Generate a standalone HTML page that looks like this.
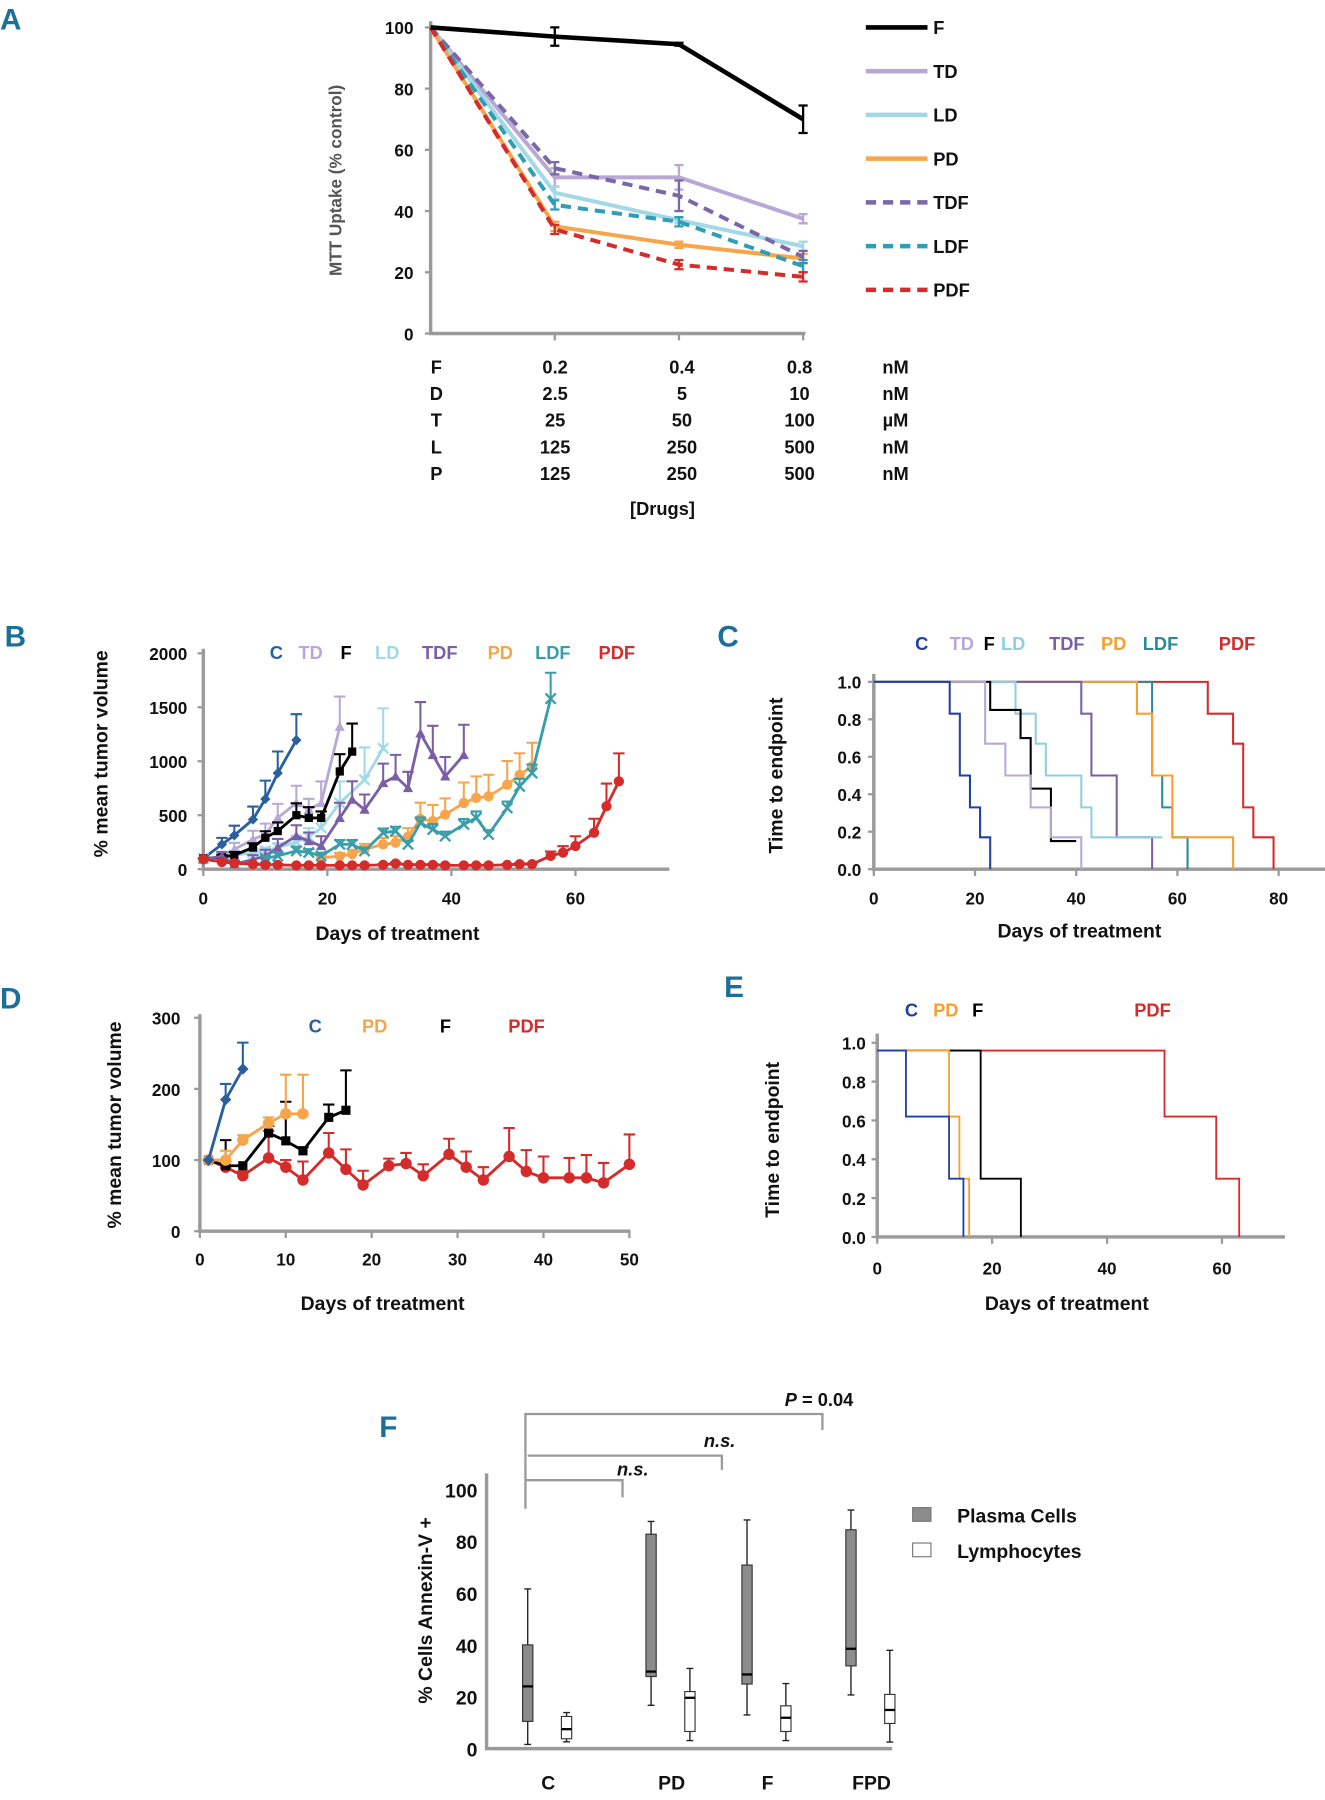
<!DOCTYPE html>
<html><head><meta charset="utf-8">
<style>
html,body{margin:0;padding:0;background:#fff;}
svg{display:block;}
text{font-family:"Liberation Sans",sans-serif;font-weight:bold;fill:#111;}
.lbl{fill:#1b6f9a;font-size:26px;}
.tk{font-size:15px;}
</style></head>
<body>
<svg id="fig" width="1325" height="1800" viewBox="0 0 1160 1576" preserveAspectRatio="none" xmlns="http://www.w3.org/2000/svg">
<text class="lbl" x="0" y="26">A</text>
<text class="lbl" x="4" y="566">B</text>
<text class="lbl" x="628" y="566">C</text>
<text class="lbl" x="0" y="883">D</text>
<text class="lbl" x="634" y="873">E</text>
<text class="lbl" x="332" y="1258">F</text>
<g id="gA"></g>
<g id="gB"></g>
<g id="gC"></g>
<g id="gD"></g>
<g id="gE"></g>
<g id="gF"></g>
</svg>
<script>
// ===== Panel A data =====
const aNames = ["F","TD","LD","PD","TDF","LDF","PDF"];
const aF   = [100, 97, 94.5, 70];
const aTD  = [100, 51, 51, 37.5];
const aLD  = [100, 46, 37, 28.5];
const aPD  = [100, 35, 29, 24.5];
const aTDF = [100, 54, 45, 25];
const aLDF = [100, 42, 36.5, 22];
const aPDF = [100, 34, 22.5, 18.5];
const aErr = [[0,3,0.5,4.5],[0,3,4,1.5],[0,2,1,1.5],[0,1.5,1,1.5],[0,2,5,2],[0,1.5,1.5,2],[0,1.5,1.5,1.5]];
const aYTicks = [0,20,40,60,80,100];
const aTable = [["F","0.2","0.4","0.8","nM"],["D","2.5","5","10","nM"],["T","25","50","100","µM"],["L","125","250","500","nM"],["P","125","250","500","nM"]];

// ===== Panel B data =====
const bC_days = [0,3,5,8,10,12,15];
const bC_vals = [100,230,313,460,650,890,1196];
const bC_err  = [0,60,90,120,170,200,240];
const bTD_days = [0,3,5,8,10,12,15,17,19,22];
const bTD_vals = [100,92,184,276,322,475,613,552,613,1319];
const bTD_err  = [0,50,60,80,100,130,160,100,200,280];
const bF_days = [0,3,5,8,10,12,15,17,19,22,24];
const bF_vals = [100,110,130,200,291,353,500,475,475,905,1089];
const bF_err  = [0,20,30,40,60,80,110,100,60,160,260];
const bLD_days = [0,3,5,8,10,12,15,17,19,22,26,29];
const bLD_vals = [100,110,130,150,170,200,250,300,383,613,828,1120];
const bLD_err  = [0,20,20,30,30,40,60,80,150,200,300,370];
const bTDF_days = [0,3,5,8,10,12,15,17,19,22,24,26,29,31,33,35,37,39,42];
const bTDF_vals = [90,120,46,90,120,200,307,260,215,475,644,552,798,859,752,1258,1058,859,1058];
const bTDF_err  = [0,40,30,40,60,80,100,80,90,140,170,140,180,200,150,290,270,180,280];
const bPD_days = [19,22,24,26,29,31,33,35,37,39,42,44,46,49,51,53];
const bPD_vals = [107,120,140,184,230,245,300,466,445,506,613,660,675,782,874,951];
const bPD_err  = [20,30,40,50,60,60,80,150,150,150,190,200,200,220,200,220];
const bLDF_days = [10,12,15,17,19,22,24,26,29,31,33,35,37,39,42,44,46,49,51,53,56];
const bLDF_vals = [100,123,169,155,123,230,230,169,337,353,230,429,368,307,414,475,322,567,767,890,1580];
const bLDF_err  = [20,30,40,30,30,40,40,30,40,40,30,50,50,40,50,60,40,60,70,80,240];
const bPDF_days = [0,3,5,8,10,12,15,17,19,22,24,26,29,31,33,35,37,39,42,44,46,49,51,53,56,58,60,63,65,67];
const bPDF_vals = [92,67,55,46,40,40,35,35,35,35,35,35,40,52,40,40,40,35,35,35,35,40,46,46,123,153,215,337,583,813];
const bPDF_err  = [10,10,8,8,6,6,6,6,6,6,6,6,8,10,8,8,8,6,6,6,6,8,10,10,40,60,90,130,210,260];
const bYTicks = [0,500,1000,1500,2000];
const bXTicks = [0,20,40,60];

// ===== Panel C data (survival steps) =====
const cC_t = [0,15,17,19,21,23];   const cC_s = [1,0.83,0.5,0.33,0.17,0];
const cTD_t = [0,22,26,31,35,41];  const cTD_s = [1,0.67,0.5,0.33,0.17,0];
const cF_t = [0,23,29,31,35,40];   const cF_s = [1,0.85,0.7,0.43,0.15,0.15];
const cLD_t = [0,28,32,34,41,43,57]; const cLD_s = [1,0.83,0.67,0.5,0.33,0.17,0.17];
const cTDF_t = [0,41,43,48,55];    const cTDF_s = [1,0.83,0.5,0.17,0];
const cPD_t = [0,52,55,59,71];     const cPD_s = [1,0.83,0.5,0.17,0];
const cLDF_t = [0,55,57,59,62];    const cLDF_s = [1,0.5,0.33,0.17,0];
const cPDF_t = [0,66,71,73,75,79]; const cPDF_s = [1,0.83,0.67,0.33,0.17,0];
const cYTicks = [0,0.2,0.4,0.6,0.8,1.0];
const cXTicks = [0,20,40,60,80];

// ===== Panel D data =====
const dC_days = [1,3,5];  const dC_vals = [100,185,228]; const dC_err = [0,22,37];
const dPD_days = [1,3,5,8,10,12]; const dPD_vals = [100,100,128,152,165,165]; const dPD_err = [0,13,7,8,55,55];
const dF_days = [1,3,5,8,10,12,15,17]; const dF_vals = [100,92,92,138,127,113,160,170]; const dF_err = [0,36,0,10,55,5,18,56];
const dPDF_days = [1,3,5,8,10,12,15,17,19,22,24,26,29,31,33,36,38,40,43,45,47,50];
const dPDF_vals = [100,90,78,103,90,72,110,87,65,92,95,78,108,90,72,105,84,75,75,75,68,94];
const dPDF_err  = [0,8,6,38,10,26,28,28,20,10,15,16,22,22,18,40,30,30,28,32,28,42];
const dYTicks = [0,100,200,300];
const dXTicks = [0,10,20,30,40,50];

// ===== Panel E data =====
const eC_t = [0,5,12.5,15];   const eC_s = [0.96,0.62,0.3,0];
const ePD_t = [0,12.5,14.3,16]; const ePD_s = [0.96,0.62,0.3,0];
const eF_t = [0,18,25];       const eF_s = [0.96,0.3,0];
const ePDF_t = [0,50,59,63];  const ePDF_s = [0.96,0.62,0.3,0];
const eYTicks = [0,0.2,0.4,0.6,0.8,1.0];
const eXTicks = [0,20,40,60];

// ===== Panel F data (box plots) =====
const fCats = ["C","PD","F","FPD"];
const fPlasmaMin = [1.6,16.7,13,20.7];
const fPlasmaQ1  = [10.5,27.8,24.9,31.9];
const fPlasmaMed = [24,29.7,28.6,38.5];
const fPlasmaQ3  = [40,82.7,70.8,84.4];
const fPlasmaMax = [61.6,87.6,88.2,92];
const fLymMin = [2.6,3.1,3.1,2.5];
const fLymQ1  = [3.8,6.6,6.6,9.7];
const fLymMed = [7.5,19.6,11.9,14.9];
const fLymQ3  = [12.4,22,16.5,20.9];
const fLymMax = [13.9,30.9,25.1,37.9];
const fYTicks = [0,20,40,60,80,100];

const NS = "http://www.w3.org/2000/svg";
function mk(parent, tag, attrs, txt){
  const e = document.createElementNS(NS, tag);
  for (const k in attrs) e.setAttribute(k, attrs[k]);
  if (txt !== undefined) e.textContent = txt;
  parent.appendChild(e);
  return e;
}
function marker(g, type, x, y, col, sz){
  let e;
  if (type==="diamond") e = mk(g,"polygon",{points:`${x},${y-sz} ${x+sz},${y} ${x},${y+sz} ${x-sz},${y}`,fill:col});
  else if (type==="tri") e = mk(g,"polygon",{points:`${x},${y-sz} ${x+sz},${y+sz*0.8} ${x-sz},${y+sz*0.8}`,fill:col});
  else if (type==="square") e = mk(g,"rect",{x:x-sz*0.8,y:y-sz*0.8,width:sz*1.6,height:sz*1.6,fill:col});
  else if (type==="circle") e = mk(g,"circle",{cx:x,cy:y,r:sz,fill:col});
  else { e = mk(g,"path",{d:`M${x-sz},${y-sz}L${x+sz},${y+sz}M${x-sz},${y+sz}L${x+sz},${y-sz}`,stroke:col,"stroke-width":2}); }
  
  
}
const AX = "#9a9a9a";

// ===== Panel A =====
(function(){
  const g = document.getElementById("gA");
  const xA = i => 377 + i*108.7;
  const yA = v => 292 - v*2.68;
  let e = mk(g,"path",{d:`M377,${yA(102)}V292H${xA(3)+2}`,stroke:AX,"stroke-width":3,fill:"none"});
  
  
  aYTicks.forEach(t=>{
    mk(g,"line",{x1:372,x2:377,y1:yA(t),y2:yA(t),stroke:AX,"stroke-width":2});
    const tx = mk(g,"text",{x:362,y:yA(t)+6,"text-anchor":"end",class:"tk"},t);
    
    
  });
  [1,2,3].forEach(i=>mk(g,"line",{x1:xA(i),x2:xA(i),y1:292,y2:298,stroke:AX,"stroke-width":2}));
  const yl = mk(g,"text",{transform:"translate(299,158) rotate(-90)","text-anchor":"middle",style:"font-size:15px;fill:#555"},"MTT Uptake (% control)");
  
  
  const series = [aF,aTD,aLD,aPD,aTDF,aLDF,aPDF];
  const cols = ["#000","#b9a8d6","#a3d8e6","#f6a54a","#7a67a6","#2f9db3","#d42b2b"];
  const dash = [null,null,null,null,"9,6","9,6","9,6"];
  const order = [1,2,3,4,5,6,0];
  order.forEach(si=>{
    const vals = series[si];
    const pts = vals.map((v,i)=>`${xA(i)},${yA(v)}`).join(" ");
    const pl = mk(g,"polyline",{points:pts,fill:"none",stroke:cols[si],"stroke-width":si===0?4:3.5});
    if (dash[si]) pl.setAttribute("stroke-dasharray",dash[si]);
    
    
    vals.forEach((v,i)=>{
      const er = aErr[si][i]; if(!er) return;
      mk(g,"path",{d:`M${xA(i)},${yA(v+er)}V${yA(v-er)}M${xA(i)-4},${yA(v+er)}h8M${xA(i)-4},${yA(v-er)}h8`,stroke:cols[si],"stroke-width":2,fill:"none"});
    });
  });
  aNames.forEach((n,i)=>{
    const y = 24 + i*38.3;
    const l = mk(g,"line",{x1:758,x2:812,y1:y,y2:y,stroke:cols[i],"stroke-width":4});
    if (dash[i]) l.setAttribute("stroke-dasharray","9,6");
    
    
    const t = mk(g,"text",{x:817,y:y+6,style:"font-size:16px"},n);
    
    
  });
  const cx = [382,486,597,700,784];
  aTable.forEach((row,r)=>{
    row.forEach((c,j)=>{
      const t = mk(g,"text",{x:cx[j],y:327+r*23.3,"text-anchor":"middle",style:"font-size:16px"},c);
      
      
    });
  });
  const xt = mk(g,"text",{x:580,y:451,"text-anchor":"middle",style:"font-size:16px"},"[Drugs]");
  
  
})();

// ===== Panel B =====
(function(){
  const g = document.getElementById("gB");
  const xB = d => 178 + d*5.43;
  const yB = v => 761 - v*0.0945;
  const ax = mk(g,"path",{d:`M178,568V761H586`,stroke:AX,"stroke-width":3,fill:"none"});
  
  
  bYTicks.forEach(t=>{
    mk(g,"line",{x1:173,x2:178,y1:yB(t),y2:yB(t),stroke:AX,"stroke-width":2});
    const tx = mk(g,"text",{x:164,y:yB(t)+6,"text-anchor":"end",class:"tk"},t);
    
    
  });
  bXTicks.forEach(t=>{
    mk(g,"line",{x1:xB(t),x2:xB(t),y1:761,y2:767,stroke:AX,"stroke-width":2});
    const tx = mk(g,"text",{x:xB(t),y:792,"text-anchor":"middle",class:"tk"},t);
    
    
  });
  const yl = mk(g,"text",{transform:"translate(94,660) rotate(-90)","text-anchor":"middle",style:"font-size:17px"},"% mean tumor volume");
  
  
  const xl = mk(g,"text",{x:348,y:823,"text-anchor":"middle",style:"font-size:17px"},"Days of treatment");
  
  
  const S = [
    ["c",bC_days,bC_vals,bC_err,"#2a5f9e","diamond"],
    ["ld",bLD_days,bLD_vals,bLD_err,"#a3d8e6","x"],
    ["td",bTD_days,bTD_vals,bTD_err,"#b9a8d6","tri"],
    ["f",bF_days,bF_vals,bF_err,"#000","square"],
    ["tdf",bTDF_days,bTDF_vals,bTDF_err,"#7b5fa6","tri"],
    ["pd",bPD_days,bPD_vals,bPD_err,"#f6a54a","circle"],
    ["ldf",bLDF_days,bLDF_vals,bLDF_err,"#3a9eaa","x"],
    ["pdf",bPDF_days,bPDF_vals,bPDF_err,"#d42b2b","circle"]
  ];
  S.forEach(s=>{
    const [n,ds,vs,es,col,mt] = s;
    vs.forEach((v,i)=>{ if(!es[i]) return;
      mk(g,"path",{d:`M${xB(ds[i])},${yB(v)}V${yB(v+es[i])}M${xB(ds[i])-5},${yB(v+es[i])}h10`,stroke:col,"stroke-width":1.8,fill:"none"});
    });
    const pl = mk(g,"polyline",{points:vs.map((v,i)=>`${xB(ds[i])},${yB(v)}`).join(" "),fill:"none",stroke:col,"stroke-width":2.5});
    
    
    vs.forEach((v,i)=>marker(g,mt,xB(ds[i]),yB(v),col,4.5));
  });
  const hdr = [["C",242,"#2a5f9e"],["TD",272,"#b9a8d6"],["F",303,"#000"],["LD",339,"#a3d8e6"],["TDF",385,"#7b5fa6"],["PD",438,"#f6a54a"],["LDF",484,"#3a9eaa"],["PDF",540,"#d42b2b"]];
  hdr.forEach(h=>{
    const t = mk(g,"text",{x:h[1],y:577,"text-anchor":"middle",style:`font-size:16px;fill:${h[2]}`},h[0]);
    
    
  });
})();

// survival helper
function stepPath(ts, ss, xf, yf){
  let d = `M${xf(ts[0])},${yf(ss[0])}`;
  for (let i=1;i<ts.length;i++){ d += `H${xf(ts[i])}V${yf(ss[i])}`; }
  return d;
}

// ===== Panel C =====
(function(){
  const g = document.getElementById("gC");
  const xC = d => 765 + d*4.43;
  const yC = s => 761 - s*164;
  const ax = mk(g,"path",{d:`M765,590V761H1160`,stroke:AX,"stroke-width":3,fill:"none"});
  
  
  cYTicks.forEach(t=>{
    mk(g,"line",{x1:760,x2:765,y1:yC(t),y2:yC(t),stroke:AX,"stroke-width":2});
    const tx = mk(g,"text",{x:754,y:yC(t)+6,"text-anchor":"end",class:"tk"},t.toFixed(1));
    
    
  });
  cXTicks.forEach(t=>{
    mk(g,"line",{x1:xC(t),x2:xC(t),y1:761,y2:767,stroke:AX,"stroke-width":2});
    const tx = mk(g,"text",{x:xC(t),y:792,"text-anchor":"middle",class:"tk"},t);
    
    
  });
  const yl = mk(g,"text",{transform:"translate(685,679) rotate(-90)","text-anchor":"middle",style:"font-size:17px"},"Time to endpoint");
  
  
  const xl = mk(g,"text",{x:945,y:821,"text-anchor":"middle",style:"font-size:17px"},"Days of treatment");
  
  
  const S = [["pdf",cPDF_t,cPDF_s,"#d42b2b"],["ldf",cLDF_t,cLDF_s,"#2a8a9a"],["pd",cPD_t,cPD_s,"#f5a030"],["tdf",cTDF_t,cTDF_s,"#7b5fa6"],["ld",cLD_t,cLD_s,"#8fd0e0"],["f",cF_t,cF_s,"#000"],["td",cTD_t,cTD_s,"#b9a8d6"],["c",cC_t,cC_s,"#2240a0"]];
  S.forEach(s=>{
    const p = mk(g,"path",{d:stepPath(s[1],s[2],xC,yC),fill:"none",stroke:s[3],"stroke-width":1.8});
    
    
  });
  const hdr = [["C",807,"#2240a0"],["TD",842,"#b9a8d6"],["F",866,"#000"],["LD",887,"#8fd0e0"],["TDF",934,"#7b5fa6"],["PD",975,"#f5a030"],["LDF",1016,"#2a8a9a"],["PDF",1083,"#d42b2b"]];
  hdr.forEach(h=>{
    const t = mk(g,"text",{x:h[1],y:569,"text-anchor":"middle",style:`font-size:16px;fill:${h[2]}`},h[0]);
    
    
  });
})();

// ===== Panel D =====
(function(){
  const g = document.getElementById("gD");
  const xD = d => 175 + d*7.52;
  const yD = v => 1078 - v*0.623;
  const ax = mk(g,"path",{d:`M175,888V1078H552`,stroke:AX,"stroke-width":3,fill:"none"});
  
  
  dYTicks.forEach(t=>{
    mk(g,"line",{x1:170,x2:175,y1:yD(t),y2:yD(t),stroke:AX,"stroke-width":2});
    const tx = mk(g,"text",{x:158,y:yD(t)+6,"text-anchor":"end",class:"tk"},t);
    
    
  });
  dXTicks.forEach(t=>{
    mk(g,"line",{x1:xD(t),x2:xD(t),y1:1078,y2:1084,stroke:AX,"stroke-width":2});
    const tx = mk(g,"text",{x:xD(t),y:1108,"text-anchor":"middle",class:"tk"},t);
    
    
  });
  const yl = mk(g,"text",{transform:"translate(106,985) rotate(-90)","text-anchor":"middle",style:"font-size:17px"},"% mean tumor volume");
  
  
  const xl = mk(g,"text",{x:335,y:1147,"text-anchor":"middle",style:"font-size:17px"},"Days of treatment");
  
  
  const S = [["pdf",dPDF_days,dPDF_vals,dPDF_err,"#d42b2b","circle"],["f",dF_days,dF_vals,dF_err,"#000","square"],["pd",dPD_days,dPD_vals,dPD_err,"#f6a54a","circle"],["c",dC_days,dC_vals,dC_err,"#2a5f9e","diamond"]];
  S.forEach(s=>{
    const [n,ds,vs,es,col,mt] = s;
    vs.forEach((v,i)=>{ if(!es[i]) return;
      mk(g,"path",{d:`M${xD(ds[i])},${yD(v)}V${yD(v+es[i])}M${xD(ds[i])-5},${yD(v+es[i])}h10`,stroke:col,"stroke-width":1.8,fill:"none"});
    });
    const pl = mk(g,"polyline",{points:vs.map((v,i)=>`${xD(ds[i])},${yD(v)}`).join(" "),fill:"none",stroke:col,"stroke-width":2.5});
    
    
    vs.forEach((v,i)=>marker(g,mt,xD(ds[i]),yD(v),col,5));
  });
  const hdr = [["C",276,"#2a5f9e"],["PD",328,"#f6a54a"],["F",390,"#000"],["PDF",461,"#d42b2b"]];
  hdr.forEach(h=>{
    const t = mk(g,"text",{x:h[1],y:904,"text-anchor":"middle",style:`font-size:16px;fill:${h[2]}`},h[0]);
    
    
  });
})();

// ===== Panel E =====
(function(){
  const g = document.getElementById("gE");
  const xE = d => 768 + d*5.03;
  const yE = s => 1083 - s*170;
  const ax = mk(g,"path",{d:`M768,905V1083H1125`,stroke:AX,"stroke-width":3,fill:"none"});
  
  
  eYTicks.forEach(t=>{
    mk(g,"line",{x1:763,x2:768,y1:yE(t),y2:yE(t),stroke:AX,"stroke-width":2});
    const tx = mk(g,"text",{x:758,y:yE(t)+6,"text-anchor":"end",class:"tk"},t.toFixed(1));
    
    
  });
  eXTicks.forEach(t=>{
    mk(g,"line",{x1:xE(t),x2:xE(t),y1:1083,y2:1089,stroke:AX,"stroke-width":2});
    const tx = mk(g,"text",{x:xE(t),y:1116,"text-anchor":"middle",class:"tk"},t);
    
    
  });
  const yl = mk(g,"text",{transform:"translate(682,998) rotate(-90)","text-anchor":"middle",style:"font-size:17px"},"Time to endpoint");
  
  
  const xl = mk(g,"text",{x:934,y:1147,"text-anchor":"middle",style:"font-size:17px"},"Days of treatment");
  
  
  const S = [["pdf",ePDF_t,ePDF_s,"#d42b2b"],["f",eF_t,eF_s,"#000"],["pd",ePD_t,ePD_s,"#f5a030"],["c",eC_t,eC_s,"#2240a0"]];
  S.forEach(s=>{
    const p = mk(g,"path",{d:stepPath(s[1],s[2],xE,yE),fill:"none",stroke:s[3],"stroke-width":1.6});
    
    
  });
  const hdr = [["C",798,"#2240a0"],["PD",828,"#f5a030"],["F",856,"#000"],["PDF",1009,"#d42b2b"]];
  hdr.forEach(h=>{
    const t = mk(g,"text",{x:h[1],y:890,"text-anchor":"middle",style:`font-size:16px;fill:${h[2]}`},h[0]);
    
    
  });
})();

// ===== Panel F =====
(function(){
  const g = document.getElementById("gF");
  const yF = v => 1531 - v*2.27;
  const catX = [480,588,672,763];
  const ax = mk(g,"path",{d:`M426,1290V1531H781`,stroke:AX,"stroke-width":3,fill:"none"});
  
  
  fYTicks.forEach(t=>{
    const tx = mk(g,"text",{x:418,y:yF(t)+7,"text-anchor":"end",style:"font-size:17px"},t);
    
    
  });
  fCats.forEach((c,i)=>{
    const tx = mk(g,"text",{x:catX[i],y:1567,"text-anchor":"middle",style:"font-size:17px"},c);
    
    
  });
  const yl = mk(g,"text",{transform:"translate(378,1410) rotate(-90)","text-anchor":"middle",style:"font-size:17px"},"% Cells Annexin-V +");
  
  
  function box(cx, mn, q1, md, q3, mx, fill, nm){
    const bg = mk(g,"g",{});
    
    
    mk(bg,"path",{d:`M${cx},${yF(mx)}V${yF(q3)}M${cx},${yF(q1)}V${yF(mn)}M${cx-3},${yF(mx)}h6M${cx-3},${yF(mn)}h6`,stroke:"#222","stroke-width":1.2,fill:"none"});
    mk(bg,"rect",{x:cx-4.5,y:yF(q3),width:9,height:yF(q1)-yF(q3),fill:fill,stroke:"#333","stroke-width":1});
    mk(bg,"line",{x1:cx-4.5,x2:cx+4.5,y1:yF(md),y2:yF(md),stroke:"#000","stroke-width":2});
  }
  fCats.forEach((c,i)=>{
    box(catX[i]-18, fPlasmaMin[i],fPlasmaQ1[i],fPlasmaMed[i],fPlasmaQ3[i],fPlasmaMax[i],"#8c8c8c","box-plasma-"+c.toLowerCase());
    box(catX[i]+16, fLymMin[i],fLymQ1[i],fLymMed[i],fLymQ3[i],fLymMax[i],"#fff","box-lymphocytes-"+c.toLowerCase());
  });
  const br = [[1238,1321,720,1252],[1274,1287,632,1287],[1296,1311,545,1311]];
  const b1 = mk(g,"path",{d:`M460,1321V1238H720V1252`,stroke:"#999","stroke-width":2,fill:"none"});
  
  
  const b2 = mk(g,"path",{d:`M462,1274.5H632V1287`,stroke:"#999","stroke-width":2,fill:"none"});
  
  
  const b3 = mk(g,"path",{d:`M460,1296H545V1311`,stroke:"#999","stroke-width":2,fill:"none"});
  
  
  let t = mk(g,"text",{x:687,y:1231,style:"font-size:16px"});
  t.innerHTML = '<tspan font-style="italic">P</tspan> = 0.04';
  
  
  t = mk(g,"text",{x:630,y:1267,"text-anchor":"middle",style:"font-size:16px;font-style:italic"},"n.s.");
  
  
  t = mk(g,"text",{x:554,y:1292,"text-anchor":"middle",style:"font-size:16px;font-style:italic"},"n.s.");
  
  
  let r = mk(g,"rect",{x:799,y:1320,width:16,height:12,fill:"#8c8c8c",stroke:"#777"});
  
  
  r = mk(g,"rect",{x:799,y:1351,width:16,height:12,fill:"#fff",stroke:"#777"});
  
  
  t = mk(g,"text",{x:838,y:1333,style:"font-size:17px"},"Plasma Cells");
  
  
  t = mk(g,"text",{x:838,y:1364,style:"font-size:17px"},"Lymphocytes");
  
  
})();
</script>
</body></html>
